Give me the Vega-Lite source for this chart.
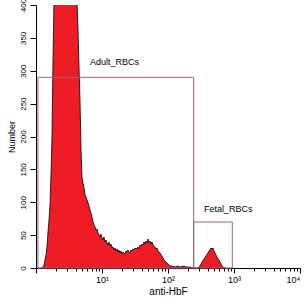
{
  "$schema": "https://vega.github.io/schema/vega-lite/v6.json",
  "width": 264,
  "height": 263,
  "autosize": {"type": "none"},
  "padding": {"left": 36, "top": 5, "right": 4, "bottom": 36},
  "background": "white",
  "config": {"view": {"stroke": null}, "font": "Liberation Sans", "axis": {"labelOverlap": false, "grid": false}},
  "datasets": {
    "hist": [
      {"x":1.150,"n":0},{"x":1.233,"n":0},{"x":1.277,"n":1.5},{"x":1.322,"n":4.6},{"x":1.369,"n":12.2},{"x":1.418,"n":19.8},{"x":1.468,"n":31.9},{"x":1.520,"n":54.8},{"x":1.574,"n":73},{"x":1.630,"n":95.8},{"x":1.688,"n":141.4},{"x":1.748,"n":202.3},{"x":1.810,"n":316.3},{"x":1.874,"n":410},{"x":2.2,"n":460},{"x":2.6,"n":500},{"x":3.2,"n":480},{"x":3.8,"n":440},{"x":4.18,"n":405},{"x":4.33,"n":362},{"x":4.48,"n":305.7},{"x":4.64,"n":255.5},{"x":4.81,"n":179.5},{"x":4.98,"n":136.9},{"x":5.15,"n":129.3},{"x":5.34,"n":121.7},{"x":5.53,"n":111},{"x":5.72,"n":108},{"x":5.93,"n":103.4},{"x":6.14,"n":98.9},{"x":6.35,"n":94.3},{"x":6.58,"n":88.2},{"x":6.81,"n":83.6},{"x":7.05,"n":77.6},{"x":7.31,"n":70},{"x":7.56,"n":65.4},{"x":7.83,"n":62.4},{"x":8.11,"n":57.8},{"x":8.40,"n":59.3},{"x":8.70,"n":53.2},{"x":9.01,"n":50.2},{"x":9.33,"n":47.1},{"x":9.66,"n":51.7},{"x":10.0,"n":45.6},{"x":10.36,"n":42.6},{"x":10.72,"n":47.1},{"x":11.10,"n":39.5},{"x":11.50,"n":42.6},{"x":11.91,"n":38},{"x":12.33,"n":35},{"x":12.77,"n":39.5},{"x":13.22,"n":33.5},{"x":13.69,"n":36.5},{"x":14.18,"n":30.4},{"x":14.68,"n":31.9},{"x":15.20,"n":27.4},{"x":15.74,"n":30.4},{"x":16.30,"n":25.9},{"x":16.88,"n":28.9},{"x":17.48,"n":24.3},{"x":18.10,"n":27.4},{"x":18.74,"n":22.8},{"x":19.41,"n":25.9},{"x":20.10,"n":21.3},{"x":20.81,"n":24.3},{"x":21.54,"n":22.8},{"x":22.31,"n":21.3},{"x":23.10,"n":25.9},{"x":23.92,"n":24.3},{"x":24.77,"n":27.4},{"x":25.65,"n":24.3},{"x":26.56,"n":22.8},{"x":27.50,"n":27.4},{"x":28.48,"n":25.9},{"x":29.49,"n":28.9},{"x":30.54,"n":27.4},{"x":31.62,"n":30.4},{"x":32.74,"n":28.9},{"x":33.91,"n":30.4},{"x":35.11,"n":31.9},{"x":36.36,"n":28.9},{"x":37.65,"n":35},{"x":38.98,"n":33.5},{"x":40.37,"n":36.5},{"x":41.80,"n":35},{"x":43.29,"n":39.5},{"x":44.82,"n":36.5},{"x":46.42,"n":41.1},{"x":48.06,"n":38},{"x":49.77,"n":44.1},{"x":51.54,"n":39.5},{"x":53.37,"n":41.1},{"x":55.26,"n":36.5},{"x":57.22,"n":39.5},{"x":59.25,"n":35},{"x":61.36,"n":33.5},{"x":63.53,"n":31.9},{"x":65.79,"n":28.9},{"x":68.13,"n":30.4},{"x":70.55,"n":25.9},{"x":73.05,"n":24.3},{"x":75.64,"n":22.8},{"x":78.33,"n":19.8},{"x":81.11,"n":18.3},{"x":83.99,"n":15.2},{"x":86.97,"n":12.2},{"x":90.06,"n":10.6},{"x":93.26,"n":9.1},{"x":96.57,"n":7.6},{"x":100,"n":6.1},{"x":103.6,"n":4.6},{"x":107.2,"n":3},{"x":115.0,"n":3},{"x":127.7,"n":1.5},{"x":141.8,"n":3},{"x":152.0,"n":1.5},{"x":168.8,"n":3},{"x":187.4,"n":1.5},{"x":215.4,"n":1.5},{"x":239.2,"n":0},{"x":265.6,"n":0},{"x":284.8,"n":0},{"x":305.4,"n":3},{"x":327.4,"n":9.1},{"x":351.1,"n":13.7},{"x":376.5,"n":18.3},{"x":403.7,"n":22.8},{"x":418.0,"n":25.9},{"x":432.9,"n":27.4},{"x":448.2,"n":30.4},{"x":464.2,"n":28.9},{"x":480.6,"n":30.4},{"x":497.7,"n":25.9},{"x":515.4,"n":22.8},{"x":533.7,"n":19.8},{"x":552.6,"n":16.7},{"x":572.2,"n":13.7},{"x":592.5,"n":12.2},{"x":613.6,"n":9.1},{"x":635.3,"n":6.1},{"x":657.9,"n":3},{"x":681.3,"n":1.5},{"x":705.5,"n":0},{"x":756.4,"n":0}
    ],
    "gates": [
      {"name": "Adult_RBCs", "x1": 1.07, "x2": 245, "y1": 0, "y2": 290, "lx": 6.58, "ly": 313},
      {"name": "Fetal_RBCs", "x1": 245, "x2": 942, "y1": 0, "y2": 70, "lx": 351, "ly": 90}
    ]
  },
  "layer": [
    {
      "data": {"name": "hist"},
      "mark": {"type": "area", "color": "#ee1c24", "opacity": 1, "fillOpacity": 1, "clip": true, "line": {"color": "black", "strokeWidth": 0.8}},
      "encoding": {
        "x": {
          "field": "x", "type": "quantitative",
          "scale": {"type": "log", "domain": [1, 10000]},
          "axis": {
            "title": "anti-HbF", "titleFontSize": 10, "titleFontWeight": "normal", "titleColor": "black", "titlePadding": 2,
            "values": [1,2,3,4,5,6,7,8,9,10,20,30,40,50,60,70,80,90,100,200,300,400,500,600,700,800,900,1000,2000,3000,4000,5000,6000,7000,8000,9000,10000],
            "labelExpr": "datum.value === 10 ? '10¹' : datum.value === 100 ? '10²' : datum.value === 1000 ? '10³' : datum.value === 10000 ? '10⁴' : ''",
            "labelOverlap": false, "labelFontSize": 9, "labelColor": "black", "labelPadding": 2,
            "tickSize": {"condition": {"test": "abs(log(datum.value)/LN10 - round(log(datum.value)/LN10)) < 0.000001", "value": 5}, "value": 3},
            "tickColor": "black", "domainColor": "black", "grid": false
          }
        },
        "y": {
          "field": "n", "type": "quantitative",
          "scale": {"domain": [0, 400]},
          "axis": {
            "title": "Number", "titleFontSize": 9, "titleFontWeight": "normal", "titleColor": "black", "titlePadding": 3,
            "tickCount": 8,
            "labelAngle": 270,
            "labelOverlap": false, "labelFontSize": 8, "labelColor": "black", "labelPadding": 3,
            "tickSize": 6,
            "tickColor": "black", "domainColor": "black", "grid": false
          }
        }
      }
    },
    {
      "data": {"name": "gates"},
      "mark": {"type": "rect", "fill": "white", "fillOpacity": 0, "stroke": "#a0607a", "strokeWidth": 1},
      "encoding": {
        "x": {"field": "x1", "type": "quantitative"},
        "x2": {"field": "x2"},
        "y": {"field": "y1", "type": "quantitative"},
        "y2": {"field": "y2"}
      }
    },
    {
      "data": {"name": "gates"},
      "mark": {"type": "text", "align": "left", "baseline": "middle", "fontSize": 9, "color": "black"},
      "encoding": {
        "x": {"field": "lx", "type": "quantitative"},
        "y": {"field": "ly", "type": "quantitative"},
        "text": {"field": "name"}
      }
    }
  ]
}
